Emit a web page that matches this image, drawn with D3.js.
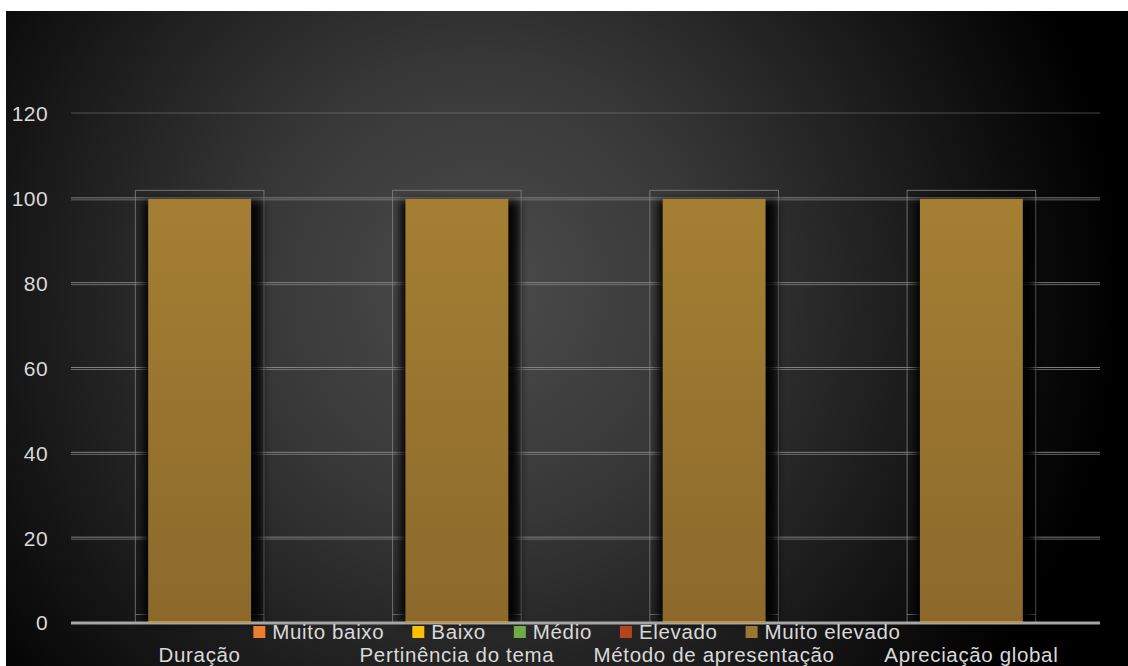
<!DOCTYPE html>
<html><head><meta charset="utf-8">
<script src="https://cdn.jsdelivr.net/npm/d3@7"></script>
<style>html,body{margin:0;padding:0;background:#fff;}svg{display:block;}</style>
</head><body>
<script>
const categories = ["Duração", "Pertinência do tema", "Método de apresentação", "Apreciação global"];
const seriesNames = ["Muito baixo", "Baixo", "Médio", "Elevado", "Muito elevado"];
const seriesColors = ["#ed7d31", "#ffc000", "#70ad47", "#b5441d", "#9c772f"];
const muitoBaixo = [0, 0, 0, 0];
const baixo = [0, 0, 0, 0];
const medio = [0, 0, 0, 0];
const elevado = [0, 0, 0, 0];
const muitoElevado = [100, 100, 100, 100];
const yTicks = [0, 20, 40, 60, 80, 100, 120];

const W = 1128, H = 666;
const FONT = "'Liberation Sans', Arial, sans-serif";
const svg = d3.select("body").append("svg").attr("width", W).attr("height", H);
const defs = svg.append("defs");

const bg = defs.append("radialGradient").attr("id", "bg").attr("gradientUnits", "userSpaceOnUse")
  .attr("cx", 480).attr("cy", 290).attr("r", 640);
bg.append("stop").attr("offset", 0).attr("stop-color", "#4c4c4c");
bg.append("stop").attr("offset", 0.35).attr("stop-color", "#383838");
bg.append("stop").attr("offset", 1).attr("stop-color", "#000");

const barG = defs.append("linearGradient").attr("id", "barg").attr("x1", 0).attr("y1", 0).attr("x2", 0).attr("y2", 1);
barG.append("stop").attr("offset", 0).attr("stop-color", "#a47f33");
barG.append("stop").attr("offset", 1).attr("stop-color", "#8c692b");

const blur = defs.append("filter").attr("id", "shadow").attr("x", "-30%").attr("y", "-10%").attr("width", "160%").attr("height", "120%");
blur.append("feGaussianBlur").attr("stdDeviation", 4);

svg.append("rect").attr("x", 6).attr("y", 11).attr("width", W - 6).attr("height", H - 11).attr("fill", "url(#bg)");

const x = d3.scaleBand().domain(categories).range([71, 1100]).paddingInner(0).paddingOuter(0);
const y = d3.scaleLinear().domain([0, 120]).range([623, 114]);

// gridlines (double lines)
const grid = svg.append("g");
yTicks.filter(t => t > 0).forEach(t => {
  grid.append("line").attr("x1", 71).attr("x2", 1100).attr("y1", y(t) - 1).attr("y2", y(t) - 1)
    .attr("stroke", "#8a8a8a").attr("stroke-width", 1).attr("stroke-opacity", t === 120 ? 0.5 : 0.9);
  if (t < 120) grid.append("line").attr("x1", 71).attr("x2", 1100).attr("y1", y(t) + 1).attr("y2", y(t) + 1)
    .attr("stroke", "#8a8a8a").attr("stroke-width", 1).attr("stroke-opacity", 0.7);
});

const seriesData = [muitoBaixo, baixo, medio, elevado, muitoElevado];
const rows = categories.map((c, i) => {
  const r = { cat: c };
  seriesNames.forEach((s, j) => r[s] = seriesData[j][i]);
  return r;
});
const stack = d3.stack().keys(seriesNames)(rows);

const bw = x.bandwidth() * 0.4;
const boxW = x.bandwidth() * 0.5;

// 3D frames
const frames = svg.append("g");
categories.forEach(c => {
  const cx = x(c) + x.bandwidth() / 2;
  frames.append("rect").attr("x", cx - boxW / 2).attr("y", y(102)).attr("width", boxW).attr("height", y(0) - y(102))
    .attr("fill", "none").attr("stroke", "#8a8a8a").attr("stroke-opacity", 0.75).attr("stroke-width", 1);
  frames.append("line").attr("x1", cx - boxW / 2).attr("x2", cx + boxW / 2).attr("y1", y(2)).attr("y2", y(2))
    .attr("stroke", "#8a8a8a").attr("stroke-opacity", 0.75);
});

// shadows
const sh = svg.append("g");
stack.forEach((layer, li) => {
  layer.forEach((d, i) => {
    const h = y(d[0]) - y(d[1]);
    if (h <= 0) return;
    const cx = x(categories[i]) + x.bandwidth() / 2;
    sh.append("rect").attr("x", cx - bw / 2 - 5).attr("y", y(d[1]) + 2).attr("width", bw + 16).attr("height", h - 2)
      .attr("fill", "#000").attr("opacity", 0.9).attr("filter", "url(#shadow)");
  });
});

// axis baseline
svg.append("line").attr("x1", 71).attr("x2", 1100).attr("y1", y(0)).attr("y2", y(0))
  .attr("stroke", "#a6a6a6").attr("stroke-width", 3);

// bars
const bars = svg.append("g");
stack.forEach((layer, li) => {
  bars.selectAll(null).data(layer).enter().append("rect")
    .attr("x", (d, i) => x(categories[i]) + x.bandwidth() / 2 - bw / 2)
    .attr("y", d => y(d[1]))
    .attr("width", bw)
    .attr("height", d => Math.max(0, y(d[0]) - y(d[1])))
    .attr("fill", li === 4 ? "url(#barg)" : seriesColors[li]);
});
// light bottom edge of bars
categories.forEach((c, i) => {
  const cx = x(c) + x.bandwidth() / 2;
  svg.append("line").attr("x1", cx - bw / 2).attr("x2", cx + bw / 2).attr("y1", y(0) - 1).attr("y2", y(0) - 1)
    .attr("stroke", "#c9a966").attr("stroke-width", 1.5);
});

// y labels
svg.append("g").selectAll("text").data(yTicks).enter().append("text")
  .attr("x", 48).attr("y", d => y(d)).attr("dy", "0.35em").attr("text-anchor", "end")
  .attr("font-family", FONT).attr("font-size", 21).attr("letter-spacing", 0.4).attr("fill", "#d9d9d9").text(d => d);

// category labels
svg.append("g").selectAll("text").data(categories).enter().append("text")
  .attr("x", d => x(d) + x.bandwidth() / 2).attr("y", 662).attr("text-anchor", "middle")
  .attr("font-family", FONT).attr("font-size", 20.5).attr("letter-spacing", 0.65).attr("fill", "#d9d9d9").text(d => d);

// legend
const leg = svg.append("g");
let cur = 0;
seriesNames.forEach((s, j) => {
  const g = leg.append("g");
  g.append("rect").attr("x", cur).attr("y", -13).attr("width", 12).attr("height", 12).attr("fill", seriesColors[j]);
  const t = g.append("text").attr("x", cur + 19).attr("y", 0).attr("font-family", FONT).attr("font-size", 20.5)
    .attr("letter-spacing", 0.65).attr("fill", "#d9d9d9").text(s);
  const tw = t.node().getComputedTextLength();
  cur += 19 + tw + 28;
});
const total = cur - 28;
leg.attr("transform", `translate(${577 - total / 2},639)`);
</script>
</body></html>
